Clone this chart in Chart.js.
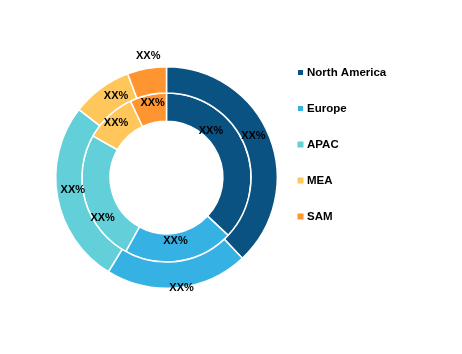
<!DOCTYPE html>
<html>
<head>
<meta charset="utf-8">
<script src="https://cdn.jsdelivr.net/npm/chart.js@4"></script>
<style>
html,body{margin:0;padding:0;background:#fff;}
#wrap{position:relative;width:462px;height:354px;}
</style>
</head>
<body>
<div id="wrap"><canvas id="c" width="462" height="354"></canvas></div>
<script>
// ---- data ----
const categories = ["North America", "Europe", "APAC", "MEA", "SAM"];
const outerValues = [38, 20.8, 26.7, 8.8, 5.7];
const innerValues = [37, 21, 25.2, 9.8, 7];
const labelText = ["XX%", "XX%", "XX%", "XX%", "XX%"];
const colors = ["#0A5282", "#35B1E4", "#62CFD9", "#FFC65C", "#FF9530"];

// label placement tweaks (angle offset in degrees, radial fraction within ring)
const outerLabelPos = [[-4, 0.45], [-2, 1.04], [2.6, 0.38], [4.5, 0.42], [1.7, 1.46]];
const innerLabelPos = [[-23, 0.29], [1, 0.29], [-16.5, 0.68], [0, 0.63], [2, 0.68]];
const legendMarkerSize = [5, 5, 6, 6, 6];

const labelPlugin = {
  id: 'arcLabels',
  afterDatasetsDraw(chart) {
    const ctx = chart.ctx;
    ctx.save();
    ctx.font = 'bold 11px "Liberation Sans", Arial, sans-serif';
    ctx.fillStyle = '#000';
    ctx.textAlign = 'center';
    ctx.textBaseline = 'middle';
    [outerLabelPos, innerLabelPos].forEach((pos, di) => {
      const meta = chart.getDatasetMeta(di);
      meta.data.forEach((arc, i) => {
        const p = arc.getProps(['x','y','startAngle','endAngle','innerRadius','outerRadius'], true);
        const mid = (p.startAngle + p.endAngle) / 2 + pos[i][0] * Math.PI / 180;
        const r = p.innerRadius + pos[i][1] * (p.outerRadius - p.innerRadius);
        ctx.fillText(labelText[i], p.x + Math.cos(mid) * r, p.y + Math.sin(mid) * r);
      });
    });
    ctx.restore();
  }
};

const legendPlugin = {
  id: 'customLegend',
  afterDraw(chart) {
    const ctx = chart.ctx;
    ctx.save();
    ctx.font = 'bold 11.5px "Liberation Sans", Arial, sans-serif';
    ctx.textBaseline = 'middle';
    ctx.textAlign = 'left';
    categories.forEach((name, i) => {
      const y = 72.5 + i * 36;
      const s = legendMarkerSize[i];
      ctx.fillStyle = colors[i];
      ctx.fillRect(300.5 - s / 2, y - s / 2, s, s);
      ctx.fillStyle = '#000';
      ctx.fillText(name, 307, y + 0.5);
    });
    ctx.restore();
  }
};

new Chart(document.getElementById('c'), {
  type: 'doughnut',
  data: {
    labels: categories,
    datasets: [
      { data: outerValues, backgroundColor: colors, borderColor: '#fff', borderWidth: 1.5, weight: 26 },
      { data: innerValues, backgroundColor: colors, borderColor: '#fff', borderWidth: 1.5, weight: 28 }
    ]
  },
  options: {
    responsive: false,
    animation: false,
    cutout: '50.9%',
    layout: { padding: { left: 55, right: 184, top: 66, bottom: 65 } },
    plugins: { legend: { display: false }, tooltip: { enabled: false } }
  },
  plugins: [labelPlugin, legendPlugin]
});
</script>
</body>
</html>
